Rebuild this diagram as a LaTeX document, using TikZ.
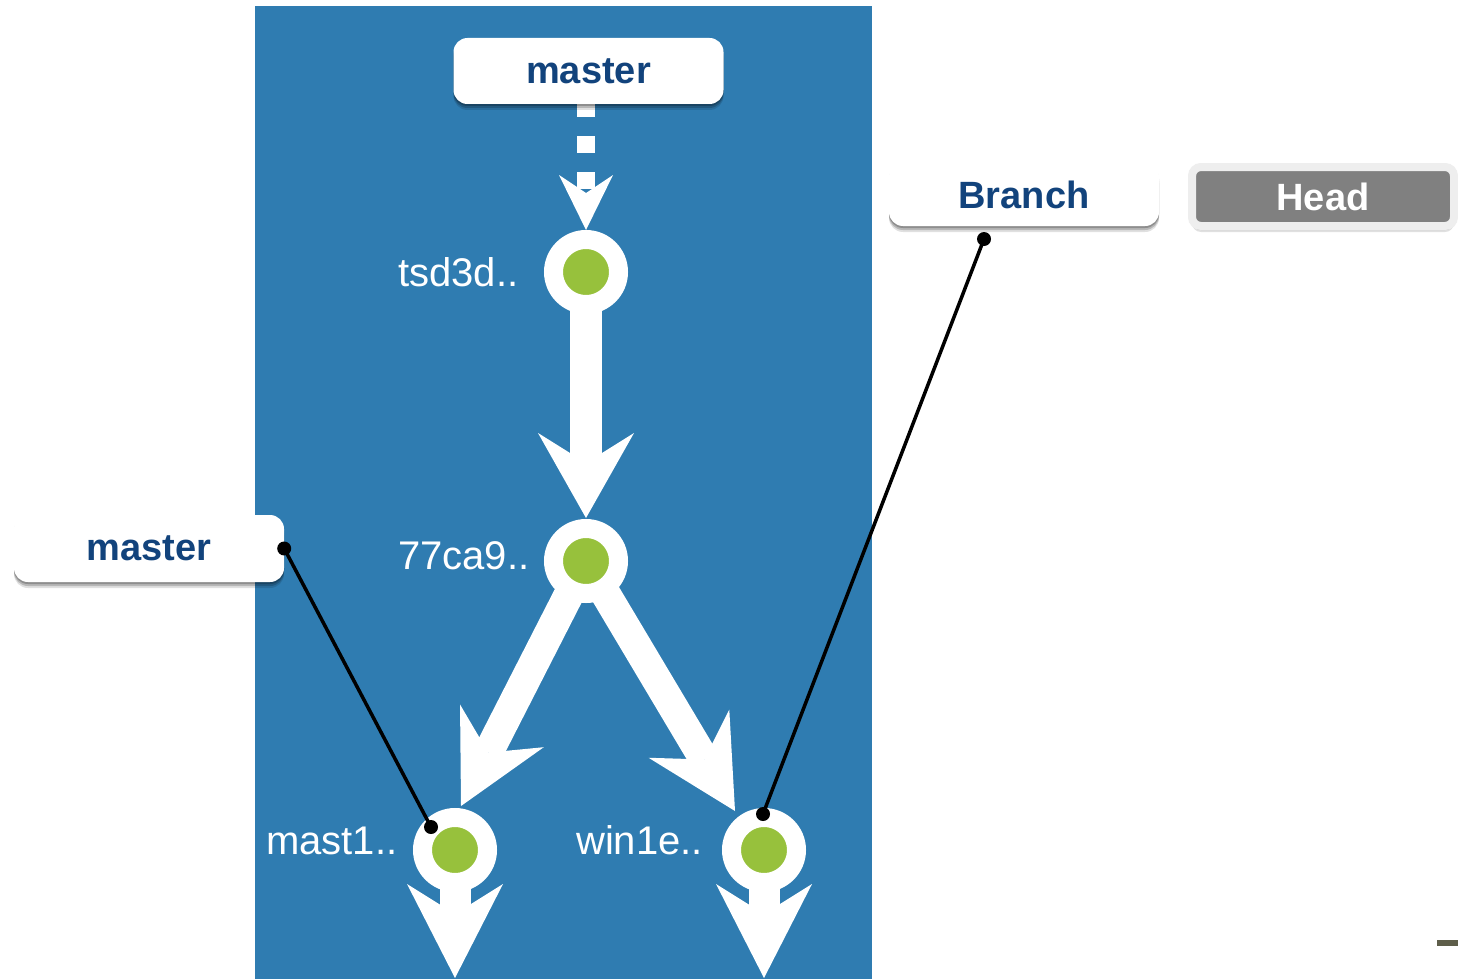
\documentclass[tikz,border=0pt]{standalone}
\usepackage{fontspec}
\setmainfont{Liberation Sans}
\usetikzlibrary{calc,shadows}
\definecolor{panelblue}{HTML}{2F7CB1}
\definecolor{labelblue}{HTML}{12437C}
\definecolor{commitgreen}{HTML}{97C13C}
\definecolor{headgray}{HTML}{808080}
\definecolor{headring}{HTML}{EEEEEE}
\definecolor{olivemark}{HTML}{5E5E4A}
\newcommand\fatarrow[7]{% start, tip, length, notch distance, half width, shaft width, shaft options
  \coordinate (fatB) at ($(#2)!#3!(#1)$);
  \coordinate (fatN) at ($(#2)!#4!(#1)$);
  \coordinate (fatL) at ($(fatB)!#5!90:(#2)$);
  \coordinate (fatR) at ($(fatB)!#5!-90:(#2)$);
  \draw[white, line width=#6, line cap=butt, #7] (#1) -- (fatN);
  \fill[white] (#2) -- (fatL) -- (fatN) -- (fatR) -- cycle;
}
\tikzset{
  softshadow/.style={
    drop shadow={shadow xshift=0pt, shadow yshift=-6pt, opacity=0.12, fill=black},
    drop shadow={shadow xshift=0pt, shadow yshift=-4pt, opacity=0.18, fill=black},
    drop shadow={shadow xshift=0pt, shadow yshift=-2pt, opacity=0.22, fill=black}},
  labelbox/.style={rectangle, rounded corners=14pt, fill=white, minimum width=270pt,
    minimum height=66pt, inner sep=0pt, text=labelblue, font=\fontsize{38}{40}\selectfont\bfseries,
    softshadow},
  headbox/.style={rectangle, rounded corners=9pt, fill=headgray, draw=headring, line width=8pt,
    minimum width=262pt, minimum height=59pt, inner sep=0pt, text=white,
    font=\fontsize{38}{40}\selectfont\bfseries, softshadow},
  commit/.style={circle, fill=commitgreen, draw=white, line width=19pt, minimum size=65pt, inner sep=0pt},
  hashlabel/.style={anchor=base west, inner sep=0pt, text=white, font=\fontsize{40}{42}\selectfont},
  pointer/.style={black, line width=3.5pt},
  pointerdot/.style={black},
}
\begin{document}
\begin{tikzpicture}[x=1pt,y=-1pt]
\useasboundingbox (0,0) rectangle (1458,979);
\fill[white] (0,0) rectangle (1458,979);
\fill[panelblue] (255,6) rectangle (872,979);

% commit positions
\coordinate (k1) at (586,272);
\coordinate (k2) at (586,561);
\coordinate (k3) at (455,850);
\coordinate (k4) at (764,850);
\coordinate (e3) at (455,978);
\coordinate (e4) at (764,978);
\coordinate (ds) at (586,100);
\coordinate (t23) at (461,806);
\coordinate (t24) at (735,811);

% arrows
\coordinate (dt) at ($(k1)!42pt!(ds)$);
\fatarrow{ds}{dt}{55pt}{37pt}{27pt}{18pt}{dash pattern=on 17pt off 19pt}
\coordinate (t12) at ($(k2)!43pt!(k1)$);
\fatarrow{k1}{t12}{85pt}{55pt}{48pt}{32pt}{}
\fatarrow{k2}{t23}{90pt}{60pt}{47pt}{30pt}{}
\fatarrow{k2}{t24}{90pt}{60pt}{47pt}{30pt}{}
\fatarrow{k3}{e3}{94pt}{64pt}{48pt}{31pt}{}
\fatarrow{k4}{e4}{94pt}{64pt}{48pt}{31pt}{}

% commits
\node[commit] (c1) at (k1) {};
\node[commit] (c2) at (k2) {};
\node[commit] (c3) at (k3) {};
\node[commit] (c4) at (k4) {};

% hash labels
\node[hashlabel] (h1) at (398,286) {tsd3d..};
\node[hashlabel] (h2) at (398,569) {77ca9..};
\node[hashlabel] (h3) at (266,854) {mast1..};
\node[hashlabel] (h4) at (576,854) {win1e..};

% label boxes
\node[labelbox] (m1) at (588.5,71) {master};
\node[labelbox, minimum height=63pt] (br) at (1024,194.5) {Branch};
\node[headbox] (hd) at (1323,196.5) {Head};
\node[labelbox, minimum height=67pt] (m2) at (149,548.5) {master};

% pointers
\coordinate (p1) at (m2.east);
\coordinate (p2) at (431,827);
\coordinate (p3) at (984,239);
\coordinate (p4) at (763,814);
\draw[pointer] (p1) -- (p2);
\draw[pointer] (p3) -- (p4);
\foreach \p in {p1,p2,p3,p4} \fill[pointerdot] (\p) circle (7pt);

% small mark at the lower right
\fill[olivemark] (1437,940) rectangle (1458,946);
\end{tikzpicture}
\end{document}
